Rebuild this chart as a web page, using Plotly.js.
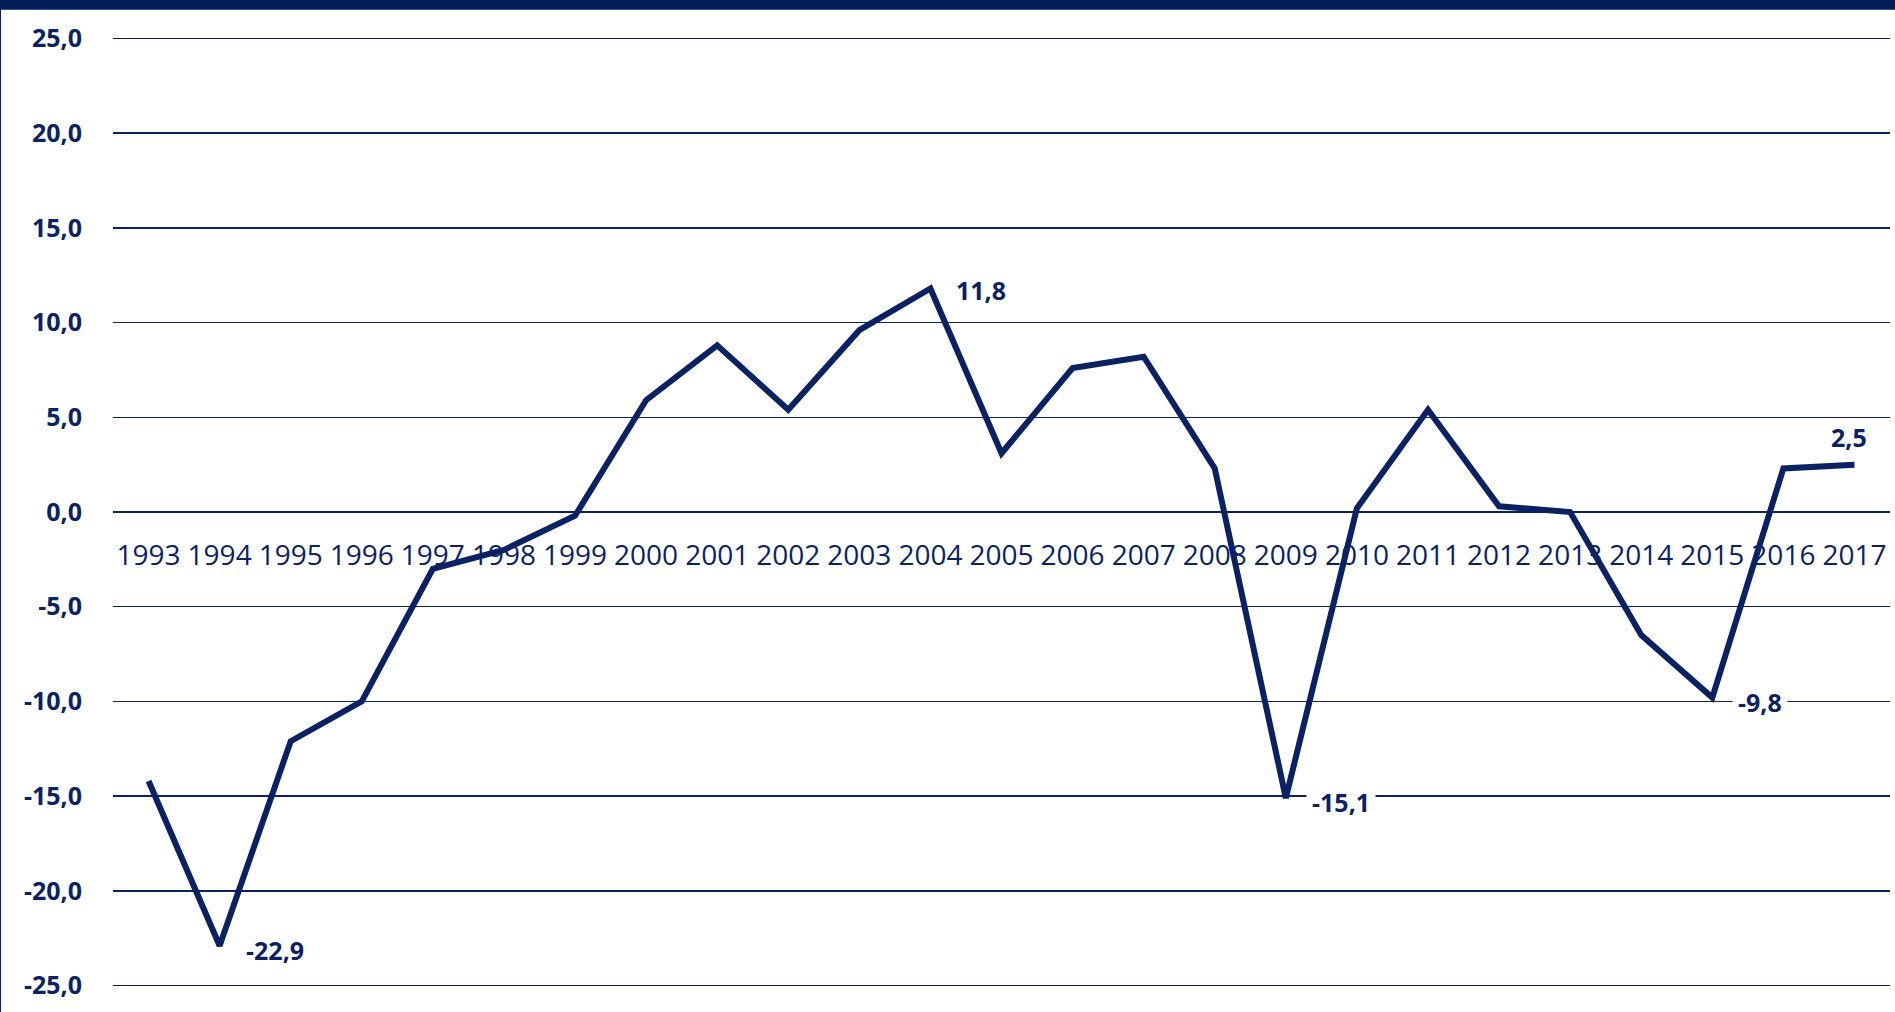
<!DOCTYPE html>
<html>
<head>
<meta charset="utf-8">
<script src="https://cdn.plot.ly/plotly-3.0.1.min.js"></script>
<style>
  html, body { margin: 0; padding: 0; background: #fff; }
  #chart { width: 1895px; height: 1012px; }
</style>
</head>
<body>
<div id="chart"></div>
<script>
const years = [1993,1994,1995,1996,1997,1998,1999,2000,2001,2002,2003,2004,2005,2006,2007,2008,2009,2010,2011,2012,2013,2014,2015,2016,2017];
const values = [-14.2,-22.9,-12.1,-10.0,-3.0,-2.0,-0.2,5.9,8.8,5.4,9.6,11.8,3.1,7.6,8.2,2.3,-15.1,0.2,5.4,0.3,0.0,-6.5,-9.8,2.3,2.5];
const labelledYears = [1994, 2004, 2009, 2015, 2017];
const yTicks = [25,20,15,10,5,0,-5,-10,-15,-20,-25];

const navy = '#0a2263';
const fmt = v => v.toFixed(1).replace('.', ',');

const annotations = labelledYears.map(yr => {
  const v = values[years.indexOf(yr)];
  const isLast = yr === 2017;
  return {
    x: yr, y: v, xref: 'x', yref: 'y',
    text: fmt(v), showarrow: false,
    xanchor: isLast ? 'center' : 'left',
    yanchor: 'middle',
    xshift: isLast ? -5 : 20,
    yshift: isLast ? 28 : (v < 0 ? -4 : -2),
    bgcolor: isLast ? 'rgba(0,0,0,0)' : '#ffffff',
    borderpad: 5,
    font: {family: 'Open Sans, sans-serif', size: 25, color: navy, weight: 700}
  };
});

const trace = {
  x: years, y: values, type: 'scatter', mode: 'lines',
  line: {color: navy, width: 6, shape: 'linear'},
  hoverinfo: 'skip'
};

const layout = {
  width: 1895, height: 1012,
  margin: {l: 113, r: 5, t: 28.5, b: 16.8},
  paper_bgcolor: '#ffffff', plot_bgcolor: '#ffffff',
  showlegend: false,
  xaxis: {
    range: [1992.5, 2017.5],
    anchor: 'free', position: 0.5,
    tickmode: 'array', tickvals: years, ticktext: years.map(String),
    showgrid: false, zeroline: false, showline: false, ticks: '',
    ticklabelstandoff: 24,
    layer: 'below traces',
    tickfont: {family: 'Open Sans, sans-serif', size: 28, color: navy, stretch: 'condensed'}
  },
  yaxis: {
    range: [-25.5, 25.5],
    tickmode: 'array', tickvals: yTicks, ticktext: yTicks.map(fmt),
    showgrid: true, gridcolor: navy, gridwidth: 1.5,
    zeroline: false, showline: false, ticks: '',
    ticklabelstandoff: 30,
    layer: 'below traces',
    tickfont: {family: 'Open Sans, sans-serif', size: 25, color: navy, weight: 700}
  },
  shapes: [
    {type: 'rect', xref: 'paper', yref: 'paper', x0: -0.1, x1: 1.1, y0: 1.02, y1: 1.2,
     fillcolor: '#001f5b', line: {width: 0}, layer: 'above'},
    {type: 'line', xref: 'paper', yref: 'paper', x0: -0.0636, x1: -0.0636, y0: -0.05, y1: 1.1,
     line: {color: '#001f5b', width: 2}}
  ],
  annotations: annotations
};

Plotly.newPlot('chart', [trace], layout, {displayModeBar: false, staticPlot: true});
</script>
</body>
</html>
